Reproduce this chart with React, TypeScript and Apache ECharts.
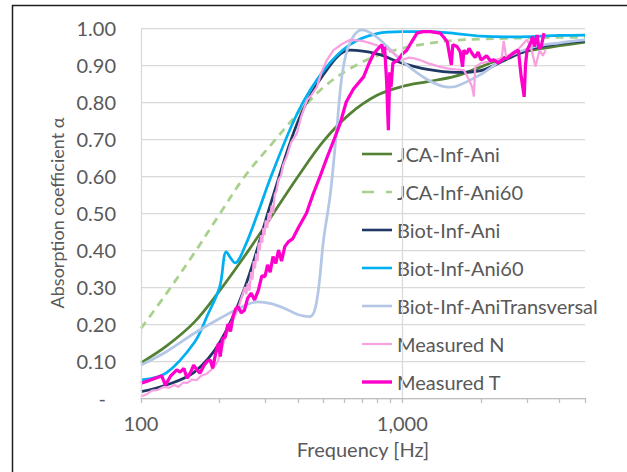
import React, { useEffect, useRef } from "react";
import * as echarts from "echarts";

// Frequency [Hz], absorption coefficient α
const jcaInfAni: [number, number][] = [
  [100, 0.095], [125, 0.14], [160, 0.205], [200, 0.29], [250, 0.385], [315, 0.49],
  [400, 0.6], [500, 0.695], [630, 0.768], [800, 0.818], [1000, 0.842], [1250, 0.855],
  [1600, 0.87], [2000, 0.895], [2500, 0.922], [3150, 0.94], [4000, 0.952], [5000, 0.962],
];
const jcaInfAni60: [number, number][] = [
  [100, 0.188], [125, 0.282], [160, 0.392], [200, 0.497], [250, 0.6], [315, 0.685],
  [400, 0.77], [500, 0.84], [630, 0.89], [800, 0.925], [1000, 0.945], [1250, 0.958],
  [1600, 0.967], [2000, 0.97], [2500, 0.972], [3150, 0.973], [4000, 0.975], [5000, 0.975],
];
const biotInfAni: [number, number][] = [
  [100, 0.017], [125, 0.035], [160, 0.07], [200, 0.15], [250, 0.3], [315, 0.53],
  [400, 0.75], [500, 0.875], [630, 0.94], [800, 0.93], [1000, 0.905], [1250, 0.888],
  [1600, 0.88], [2000, 0.885], [2500, 0.915], [3150, 0.945], [4000, 0.958], [5000, 0.965],
];
const biotInfAni60: [number, number][] = [
  [100, 0.049], [125, 0.068], [160, 0.15], [180, 0.225], [200, 0.3], [212, 0.395],
  [222, 0.375], [229, 0.365], [250, 0.41], [280, 0.5], [315, 0.6], [400, 0.775],
  [500, 0.885], [630, 0.955], [800, 0.985], [1000, 0.99], [1250, 0.99], [1600, 0.985],
  [2000, 0.978], [2500, 0.976], [3150, 0.977], [4000, 0.98], [5000, 0.981],
];
const biotInfAniTransversal: [number, number][] = [
  [100, 0.089], [125, 0.125], [160, 0.175], [200, 0.215], [250, 0.25], [280, 0.26],
  [315, 0.255], [360, 0.24], [400, 0.225], [443, 0.22], [470, 0.26], [500, 0.43],
  [530, 0.55], [560, 0.72], [590, 0.88], [630, 0.96], [700, 0.995], [800, 0.975],
  [1000, 0.91], [1250, 0.86], [1500, 0.84], [1600, 0.842], [2000, 0.875], [2500, 0.92],
  [3150, 0.948], [4000, 0.96], [5000, 0.968],
];
const measuredN: [number, number][] = [
  [100, 0.004], [105, 0.01], [110, 0.02], [116, 0.022], [122, 0.03], [128, 0.028],
  [134, 0.035], [139, 0.03], [145, 0.042], [150, 0.04], [157, 0.05], [163, 0.048],
  [170, 0.06], [178, 0.065], [185, 0.075], [191, 0.085], [197, 0.1], [205, 0.14],
  [212, 0.17], [220, 0.2], [228, 0.22], [235, 0.24], [242, 0.27], [250, 0.3],
  [253, 0.28], [256, 0.31], [260, 0.29], [264, 0.34], [267, 0.32], [270, 0.37],
  [273, 0.35], [276, 0.39], [279, 0.37], [282, 0.42], [285, 0.4], [288, 0.44],
  [291, 0.42], [294, 0.46], [297, 0.44], [300, 0.48], [304, 0.46], [308, 0.5],
  [312, 0.48], [316, 0.52], [320, 0.5], [325, 0.55], [330, 0.56], [336, 0.59],
  [343, 0.6], [350, 0.63], [361, 0.652], [375, 0.69], [395, 0.715], [410, 0.76],
  [432, 0.805], [450, 0.82], [471, 0.84], [490, 0.88], [515, 0.914], [545, 0.94],
  [595, 0.959], [632, 0.968], [700, 0.965], [755, 0.959], [820, 0.95], [898, 0.94],
  [950, 0.925], [1000, 0.914], [1060, 0.92], [1110, 0.918], [1160, 0.914], [1250, 0.905],
  [1396, 0.895], [1500, 0.89], [1600, 0.888], [1720, 0.886], [1800, 0.86], [1850, 0.84],
  [1878, 0.815], [1900, 0.895], [2000, 0.905], [2170, 0.91], [2400, 0.918], [2443, 0.965],
  [2500, 0.918], [2650, 0.935], [2800, 0.945], [2995, 0.968], [3100, 0.95], [3232, 0.896],
  [3350, 0.94], [3450, 0.925], [3532, 0.94],
];
const measuredT: [number, number][] = [
  [100, 0.04], [105, 0.045], [110, 0.05], [115, 0.055], [120, 0.06], [124, 0.035],
  [130, 0.06], [137, 0.076], [141, 0.07], [146, 0.08], [150, 0.053], [155, 0.07],
  [159, 0.089], [164, 0.075], [168, 0.067], [175, 0.09], [180, 0.1], [184, 0.103],
  [188, 0.08], [193, 0.12], [198, 0.148], [201, 0.112], [205, 0.16], [210, 0.165],
  [215, 0.2], [220, 0.18], [225, 0.22], [230, 0.24], [235, 0.247], [242, 0.23],
  [249, 0.238], [256, 0.27], [264, 0.283], [272, 0.265], [281, 0.29], [290, 0.33],
  [298, 0.328], [305, 0.36], [312, 0.34], [320, 0.382], [328, 0.364], [336, 0.4],
  [345, 0.37], [355, 0.409], [366, 0.422], [380, 0.43], [400, 0.46], [430, 0.5],
  [455, 0.55], [485, 0.6], [515, 0.65], [549, 0.7], [578, 0.742], [610, 0.8],
  [650, 0.835], [711, 0.868], [741, 0.9], [777, 0.931], [810, 0.945], [836, 0.955],
  [845, 0.93], [855, 0.95], [870, 0.86], [884, 0.724], [895, 0.88], [905, 0.84],
  [920, 0.905], [965, 0.914], [1000, 0.93], [1040, 0.94], [1080, 0.96], [1138, 0.986],
  [1200, 0.99], [1278, 0.99], [1396, 0.986], [1440, 0.975], [1485, 0.963], [1540, 0.9],
  [1560, 0.955], [1619, 0.95], [1665, 0.936], [1700, 0.895], [1720, 0.94], [1760, 0.93],
  [1800, 0.945], [1850, 0.931], [1900, 0.92], [1950, 0.935], [2000, 0.914], [2046, 0.918],
  [2100, 0.925], [2170, 0.912], [2240, 0.914], [2330, 0.905], [2443, 0.918], [2516, 0.918],
  [2600, 0.927], [2700, 0.935], [2780, 0.94], [2850, 0.868], [2926, 0.814], [2960, 0.9],
  [3000, 0.94], [3100, 0.96], [3150, 0.977], [3200, 0.95], [3280, 0.981], [3330, 0.945],
  [3400, 0.95], [3484, 0.986],
];

const seriesNames = [
  "JCA-Inf-Ani",
  "JCA-Inf-Ani60",
  "Biot-Inf-Ani",
  "Biot-Inf-Ani60",
  "Biot-Inf-AniTransversal",
  "Measured N",
  "Measured T",
];
const xTickValues = [100, 200, 300, 400, 500, 600, 700, 800, 900, 1000, 2000, 3000, 4000, 5000];
const xLabelValues = [100, 1000];
const xGridValues = [100, 1000];

const FONT = "Lato";
const TEXT = "#595959";

const ICON_SOLID = "path://M0,0h30v2.6h-30z";
const ICON_THIN = "path://M0,0h30v2.2h-30z";
const ICON_THICK = "path://M0,0h30v3.4h-30z";
const ICON_DASH = "path://M0,0h12v2.6h-12zM24,0h6v2.6h-6z";

export default function App() {
  const ref = useRef<HTMLDivElement>(null);
  useEffect(() => {
    if (!ref.current) return;
    const chart = echarts.init(ref.current, undefined, { renderer: "svg" });
    const mk = (
      name: string,
      data: [number, number][],
      color: string,
      width: number,
      smooth: boolean,
      dashed = false
    ) => ({
      name,
      type: "line",
      data,
      smooth: smooth ? 0.35 : false,
      showSymbol: false,
      symbol: "none",
      z: 3,
      lineStyle: { color, width, type: dashed ? [8, 6] : "solid" },
      itemStyle: { color },
    });
    const icons = [ICON_SOLID, ICON_DASH, ICON_SOLID, ICON_SOLID, ICON_SOLID, ICON_THIN, ICON_THICK];
    chart.setOption({
      animation: false,
      backgroundColor: "#ffffff",
      textStyle: { fontFamily: FONT },
      graphic: [
        {
          type: "rect",
          shape: { x: 12.5, y: 5.5, width: 800, height: 800 },
          style: { fill: "none", stroke: "#1e1e1e", lineWidth: 1.5 },
          silent: true,
          z: 100,
        },
      ],
      grid: { left: 141, right: 42, top: 28, bottom: 74, containLabel: false },
      legend: {
        orient: "vertical",
        left: 362,
        top: 142,
        padding: 0,
        itemWidth: 30,
        itemHeight: 14,
        itemGap: 14,
        symbolKeepAspect: true,
        data: seriesNames.map((n, i) => ({ name: n, icon: icons[i] })),
        textStyle: { fontFamily: FONT, fontSize: 20, color: TEXT, lineHeight: 24 },
        backgroundColor: "transparent",
      },
      xAxis: {
        type: "log",
        logBase: 10,
        min: 100,
        max: 5000,
        name: "Frequency [Hz]",
        nameLocation: "middle",
        nameGap: 41,
        nameTextStyle: { fontFamily: FONT, fontSize: 20, color: TEXT },
        axisLine: { show: true, lineStyle: { color: "#bfbfbf", width: 1.25 } },
        axisTick: {
          show: true,
          customValues: xTickValues,
          length: 5,
          inside: false,
          lineStyle: { color: "#bfbfbf", width: 1.25 },
        },
        minorTick: { show: false },
        axisLabel: {
          customValues: xLabelValues,
          margin: 15,
          fontFamily: FONT,
          fontSize: 20,
          color: TEXT,
          formatter: (v: number) => Math.round(v).toLocaleString("en-US"),
        },
        splitLine: { show: false },
      },
      yAxis: {
        type: "value",
        min: 0,
        max: 1,
        interval: 0.1,
        name: "Absorption coefficient α",
        nameLocation: "middle",
        nameGap: 74,
        nameTextStyle: { fontFamily: FONT, fontSize: 18, color: TEXT },
        axisLine: { show: false },
        axisTick: { show: false },
        axisLabel: {
          margin: 25,
          fontFamily: FONT,
          fontSize: 20,
          color: TEXT,
          formatter: (v: number) => (Math.abs(v) < 1e-9 ? "{z|-}" : v.toFixed(2)),
          rich: { z: { fontFamily: FONT, fontSize: 20, color: TEXT, padding: [0, 10, 0, 0] } },
        },
        splitLine: { show: true, lineStyle: { color: "#d9d9d9", width: 1.25 } },
      },
      series: [
        {
          name: "gridlines",
          type: "line",
          data: [[100, 0]],
          showSymbol: false,
          symbol: "none",
          z: 1,
          lineStyle: { opacity: 0 },
          markLine: {
            silent: true,
            symbol: "none",
            label: { show: false },
            lineStyle: { color: "#d9d9d9", width: 1.25, type: "solid" },
            data: xGridValues.map((v) => ({ xAxis: v })),
          },
        },
        mk(seriesNames[0], jcaInfAni, "#548235", 2.75, true),
        mk(seriesNames[1], jcaInfAni60, "#a9d18e", 2.75, true, true),
        mk(seriesNames[2], biotInfAni, "#203864", 2.75, true),
        mk(seriesNames[3], biotInfAni60, "#00b0f0", 2.75, true),
        mk(seriesNames[4], biotInfAniTransversal, "#b4c7e7", 2.75, true),
        mk(seriesNames[5], measuredN, "#f7a1e0", 2.25, false),
        mk(seriesNames[6], measuredT, "#ff00cc", 3.25, false),
      ],
    });
    return () => chart.dispose();
  }, []);
  return (
    <div
      ref={ref}
      style={{ position: "fixed", left: 0, top: 0, width: 627, height: 472, background: "#fff" }}
    />
  );
}
